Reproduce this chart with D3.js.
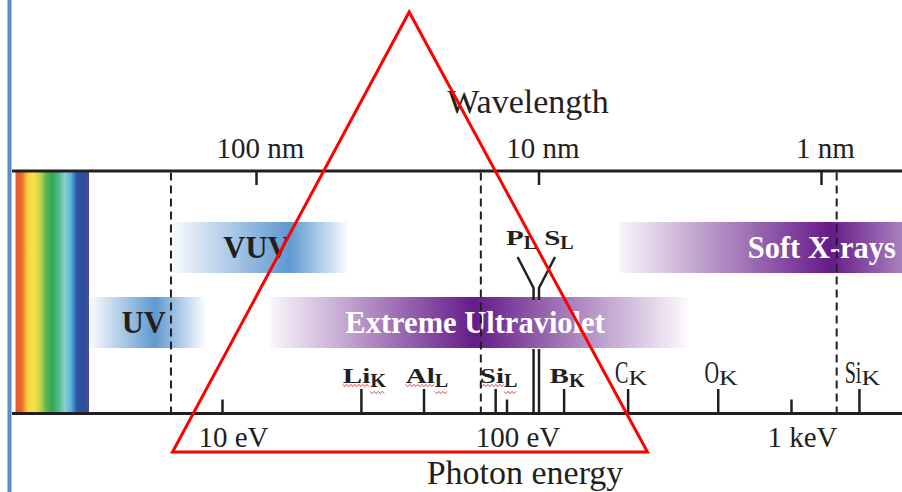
<!DOCTYPE html>
<html>
<head>
<meta charset="utf-8">
<script src="https://cdn.jsdelivr.net/npm/d3@7"></script>
<style>
body { margin: 0; background: #fff; }
svg { display: block; }
text { font-family: "Liberation Serif", "Times New Roman", serif; fill: #231f20; }
</style>
</head>
<body>
<div id="chart"></div>
<script>
// top axis: wavelength (nm)
var wavelengthTicks = [100, 10, 1];
var wavelengthLabels = ["100 nm", "10 nm", "1 nm"];

// bottom axis: photon energy (eV)
var energyTicks = [10, 100, 1000];
var energyLabels = ["10 eV", "100 eV", "1 keV"];

// dashed region boundaries (nm)
var boundaries = [200, 16, 0.88];

// visible spectrum (nm) and its colours, red -> violet
var visibleRange = [710, 390];
var rainbowColors = ["#e4572c", "#ea6a2c", "#f7d23c", "#f8e44a", "#c9d545", "#5db553",
    "#31a955", "#4fb98a", "#8ad0cc", "#5ab5e2", "#2d56a5", "#2b4b9c", "#4b4a9a"];

// spectral bands (nm): where they start, peak and fade out
var bandNames = ["VUV", "Soft X-rays", "UV", "Extreme Ultraviolet"];
var bandKind = ["uv", "xuv", "uv", "xuv"];
var bandRow = ["upper", "upper", "lower", "lower"];
var bandStart = [198, 5.15, 387, 89];
var bandPeak = [76, 0.93, 228, 16.8];
var bandEnd = [47, 0.25, 151, 2.96];

// absorption edges (eV)
var edgeElements = ["Li", "Al", "Si", "B", "C", "O", "Si"];
var edgeShells = ["K", "L", "L", "K", "K", "K", "K"];
var edgeEnergies = [30.9, 51.3, 91.6, 159.4, 267.6, 554.9, 1740];
var edgeGroup = ["euv", "euv", "euv", "euv", "sxr", "sxr", "sxr"];

// the two edges drawn as a fork through the EUV band
var forkElements = ["P", "S"];
var forkShells = ["L", "L"];
var forkEnergies = [124.5, 130.1];

// red triangle corners (eV): left, apex, right
var triangleEnergies = [6.7, 45.5, 313];

var width = 902, height = 492;
var axisTopY = 171, axisBottomY = 413.5;
var ink = "#231f20";

var xWave = d3.scaleLog().domain([100, 1]).range([256, 821]);
var xEnergy = d3.scaleLog().domain([10, 1000]).range([222, 791]);
var yRow = d3.scaleBand().domain(["upper", "lower"]).range([222, 348]).paddingInner(0.32);
var bandColor = d3.scaleOrdinal().domain(["uv", "xuv"]).range(["#5f98d0", "#651b88"]);
var bandText = d3.scaleOrdinal().domain(["uv", "xuv"]).range([ink, "#ffffff"]);

var svg = d3.select('#chart')
    .append('svg')
    .attr('width', width)
    .attr('height', height);

svg.append('rect').attr('width', width).attr('height', height).attr('fill', '#fff');

var defs = svg.append('defs');

// left blue rule
svg.append('line')
    .attr('x1', 9.5).attr('x2', 9.5)
    .attr('y1', 0).attr('y2', height)
    .attr('stroke', '#5b8bc9')
    .attr('stroke-width', 4);

// visible spectrum
var rg = defs.append('linearGradient')
    .attr('id', 'rainbow')
    .attr('gradientUnits', 'userSpaceOnUse')
    .attr('x1', xWave(visibleRange[0])).attr('x2', xWave(visibleRange[1]))
    .attr('y1', 0).attr('y2', 0);
rg.selectAll('stop')
    .data(rainbowColors)
    .enter()
    .append('stop')
    .attr('offset', function (d, i) { return i / (rainbowColors.length - 1); })
    .attr('stop-color', function (d) { return d; });

svg.append('rect')
    .attr('x', xWave(visibleRange[0]))
    .attr('width', xWave(visibleRange[1]) - xWave(visibleRange[0]))
    .attr('y', axisTopY)
    .attr('height', axisBottomY - axisTopY)
    .attr('fill', 'url(#rainbow)');

// bands
var bands = bandNames.map(function (name, i) {
    return { name: name, kind: bandKind[i], row: bandRow[i], start: bandStart[i], peak: bandPeak[i], end: bandEnd[i], id: 'band' + i };
});

bands.forEach(function (b) {
    var x0 = xWave(b.start), x1 = xWave(b.end), xp = xWave(b.peak);
    var g = defs.append('linearGradient')
        .attr('id', b.id)
        .attr('gradientUnits', 'userSpaceOnUse')
        .attr('x1', x0).attr('x2', x1).attr('y1', 0).attr('y2', 0);
    [[0, 0.04], [(xp - x0) / (x1 - x0), 1], [1, 0.02]].forEach(function (s) {
        g.append('stop')
            .attr('offset', s[0])
            .attr('stop-color', bandColor(b.kind))
            .attr('stop-opacity', s[1]);
    });
});

svg.selectAll('rect.band')
    .data(bands)
    .enter()
    .append('rect')
    .attr('class', 'band')
    .attr('x', function (d) { return xWave(d.start); })
    .attr('width', function (d) { return xWave(d.end) - xWave(d.start); })
    .attr('y', function (d) { return yRow(d.row); })
    .attr('height', yRow.bandwidth())
    .attr('fill', function (d) { return 'url(#' + d.id + ')'; });

svg.selectAll('text.band-label')
    .data(bands)
    .enter()
    .append('text')
    .attr('class', 'band-label')
    .attr('x', function (d) {
        var x1 = xWave(d.end);
        if (x1 > width) return width - 6;
        return (xWave(d.start) + x1) / 2 - 4;
    })
    .attr('y', function (d) { return yRow(d.row) + yRow.bandwidth() / 2 + 10; })
    .attr('text-anchor', function (d) { return xWave(d.end) > width ? 'end' : 'middle'; })
    .attr('font-size', 30.5)
    .attr('font-weight', 'bold')
    .style('fill', function (d) { return bandText(d.kind); })
    .text(function (d) { return d.name; });

// axis lines
[axisTopY, axisBottomY].forEach(function (y) {
    svg.append('line')
        .attr('x1', 12).attr('x2', width)
        .attr('y1', y).attr('y2', y)
        .attr('stroke', ink)
        .attr('stroke-width', 3);
});

var topAxis = d3.axisTop(xWave)
    .tickValues(wavelengthTicks)
    .tickFormat(function (d, i) { return wavelengthLabels[i]; })
    .tickSizeInner(-14)
    .tickSizeOuter(0)
    .tickPadding(13);

var gTop = svg.append('g')
    .attr('transform', 'translate(0,' + axisTopY + ')')
    .call(topAxis);

var bottomAxis = d3.axisBottom(xEnergy)
    .tickValues(energyTicks)
    .tickFormat(function (d, i) { return energyLabels[i]; })
    .tickSizeInner(-14)
    .tickSizeOuter(0)
    .tickPadding(13);

var gBottom = svg.append('g')
    .attr('transform', 'translate(0,' + axisBottomY + ')')
    .call(bottomAxis);

[gTop, gBottom].forEach(function (g) {
    g.attr('font-size', null).attr('font-family', null);
    g.select('.domain').remove();
    g.selectAll('.tick line').attr('stroke', ink).attr('stroke-width', 2.5);
    g.selectAll('.tick text').attr('font-size', 29).style('fill', ink);
});
gTop.selectAll('.tick text').attr('dx', 4);
gBottom.selectAll('.tick text').attr('dx', 11);

// axis titles
svg.append('text')
    .attr('x', 528).attr('y', 113)
    .attr('text-anchor', 'middle')
    .attr('font-size', 34)
    .text('Wavelength');

svg.append('text')
    .attr('x', 525).attr('y', 484)
    .attr('text-anchor', 'middle')
    .attr('font-size', 34)
    .text('Photon energy');

// label with subscript, centred on x
function drawLabel(x, y, main, sub, bold) {
    var g = svg.append('g');
    var mainSize = bold ? 22 : 31, subSize = bold ? 18 : 20;
    var mainSx = bold ? 1.32 : 0.65, subSx = bold ? 1.12 : 1.3;
    var subDy = bold ? 4 : 2;
    var t1 = g.append('text')
        .attr('font-size', mainSize)
        .attr('font-weight', bold ? 'bold' : 'normal')
        .attr('transform', 'scale(' + mainSx + ',1)')
        .text(main);
    var w1 = t1.node().getComputedTextLength() * mainSx;
    var t2 = g.append('text')
        .attr('font-size', subSize)
        .attr('font-weight', bold ? 'bold' : 'normal')
        .attr('transform', 'translate(' + w1 + ',' + subDy + ') scale(' + subSx + ',1)')
        .text(sub);
    var w2 = t2.node().getComputedTextLength() * subSx;
    var left = x - (w1 + w2) / 2;
    g.attr('transform', 'translate(' + left + ',' + y + ')');
    return { left: left, w1: w1, w2: w2, subDy: subDy };
}

function squiggle(x0, x1, y) {
    var pts = d3.range(x0, x1 + 0.1, 2).map(function (x, i) { return [x, y + (i % 2 ? 1.1 : -1.1)]; });
    return d3.line().curve(d3.curveCardinal)(pts);
}

// absorption edges
var edges = edgeElements.map(function (el, i) {
    return { el: el, shell: edgeShells[i], e: edgeEnergies[i], group: edgeGroup[i] };
});

svg.selectAll('line.edge')
    .data(edges)
    .enter()
    .append('line')
    .attr('class', 'edge')
    .attr('x1', function (d) { return xEnergy(d.e); })
    .attr('x2', function (d) { return xEnergy(d.e); })
    .attr('y1', axisBottomY)
    .attr('y2', 389)
    .attr('stroke', ink)
    .attr('stroke-width', 2.5);

edges.forEach(function (d) {
    var bold = d.group === 'euv';
    var m = drawLabel(xEnergy(d.e) + 3, 383, d.el, d.shell, bold);
    if (bold && d.el.length === 2) {
        svg.append('path')
            .attr('d', squiggle(m.left, m.left + m.w1, 385.5))
            .attr('fill', 'none').attr('stroke', '#e23b3b').attr('stroke-width', 1);
        svg.append('path')
            .attr('d', squiggle(m.left + m.w1, m.left + m.w1 + m.w2, 385.5 + m.subDy + 3))
            .attr('fill', 'none').attr('stroke', '#e23b3b').attr('stroke-width', 1);
    }
});

// P_L / S_L fork
var forks = forkElements.map(function (el, i) {
    return { el: el, shell: forkShells[i], e: forkEnergies[i], side: i === 0 ? -1 : 1 };
});

forks.forEach(function (d) {
    var x = xEnergy(d.e);
    svg.append('line')
        .attr('x1', x).attr('x2', x)
        .attr('y1', axisBottomY).attr('y2', 349)
        .attr('stroke', ink).attr('stroke-width', 2.5);
    svg.append('path')
        .attr('d', d3.line()([[x, 300], [x, 288], [x + d.side * 16, 257]]))
        .attr('fill', 'none')
        .attr('stroke', ink).attr('stroke-width', 2.5);
    drawLabel(x + d.side * 16 + 4, 245, d.el, d.shell, true);
});

// dashed region boundaries
svg.selectAll('line.boundary')
    .data(boundaries)
    .enter()
    .append('line')
    .attr('class', 'boundary')
    .attr('x1', function (d) { return xWave(d); })
    .attr('x2', function (d) { return xWave(d); })
    .attr('y1', axisTopY + 1.5)
    .attr('y2', axisBottomY - 1.5)
    .attr('stroke', ink)
    .attr('stroke-width', 2)
    .attr('stroke-dasharray', '8,5');

// red triangle
var tri = triangleEnergies.map(function (e, i) { return [xEnergy(e), i === 1 ? 12 : 452]; });
svg.append('path')
    .attr('d', d3.line()(tri) + 'Z')
    .attr('fill', 'none')
    .attr('stroke', '#ff0000')
    .attr('stroke-width', 3);
</script>
</body>
</html>
